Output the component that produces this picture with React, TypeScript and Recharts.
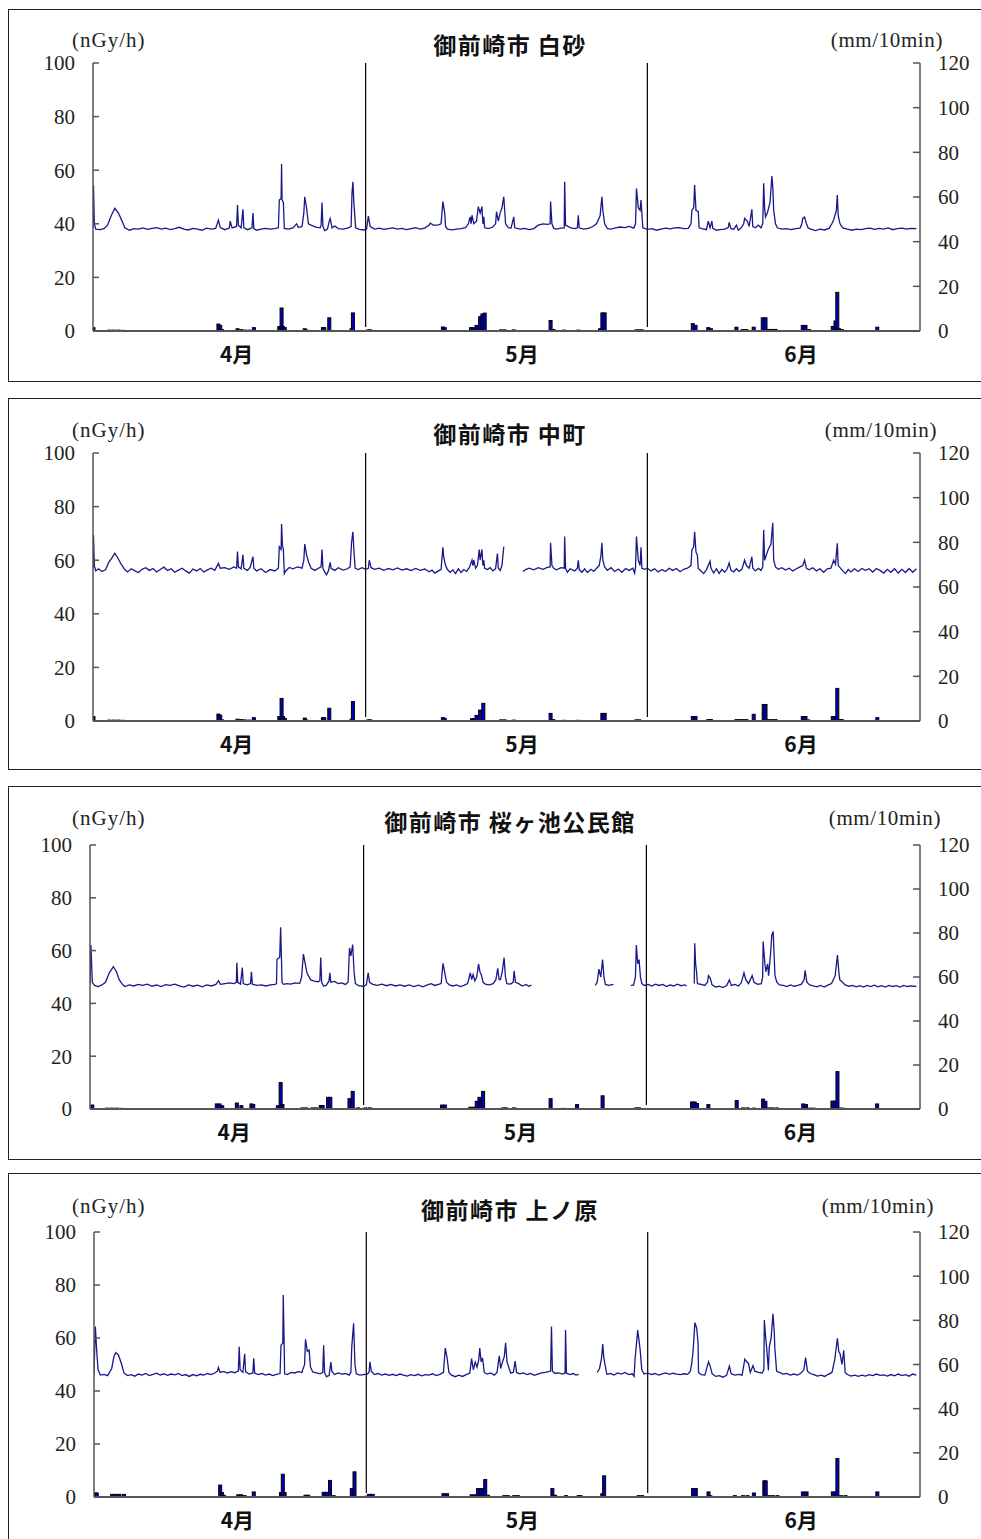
import React from "react";
import { ComposedChart, Line, Bar, XAxis, YAxis, ReferenceLine } from "recharts";

type P = [number, number | null];

// ---------- labels ----------
const titles = ["御前崎市 白砂", "御前崎市 中町", "御前崎市 桜ヶ池公民館", "御前崎市 上ノ原"];
const leftUnit = "(nGy/h)";
const rightUnit = "(mm/10min)";
const months = ["4月", "5月", "6月"];
const monthTicks = [15.8, 47.2, 77.9];
const monthBounds = [30, 61];
const leftTicks = [0, 20, 40, 60, 80, 100];
const rightTicks = [0, 20, 40, 60, 80, 100, 120];

// ---------- panel 1 : 白砂 ----------
const dose1: P[] = [
  [0, 38.5], [0.05, 54.5], [0.15, 40], [0.3, 38], [0.8, 37.8], [1.2, 38.2], [1.6, 39.5], [2.0, 43], [2.4, 45.8], [2.8, 44], [3.2, 41], [3.5, 38.5],
  [4, 37.6], [4.5, 38.2], [5, 38], [5.5, 38.5], [6, 37.9], [6.5, 38.3], [7, 38.6], [7.5, 38], [8, 38.4], [8.5, 37.8], [9, 38.2], [9.5, 38.7],
  [10, 38], [10.5, 37.7], [11, 38.3], [11.5, 38], [12, 37.6], [12.5, 38.4], [13, 38], [13.5, 38.3], [13.8, 41.4], [14, 38.6], [14.5, 37.8],
  [15, 38.4], [15.1, 41], [15.3, 38.5], [15.8, 39], [15.9, 47], [16, 39.5], [16.3, 38.5], [16.5, 45.4], [16.6, 38.5], [17, 37.8], [17.5, 38.5],
  [17.6, 44], [17.7, 38.2], [18, 37.6], [18.5, 38], [19, 38.3], [19.5, 38], [20, 38.2], [20.4, 38.5], [20.5, 48.9], [20.7, 49.5], [20.75, 62.3],
  [20.8, 49], [20.95, 48], [21.05, 38.3], [21.5, 38], [22, 38.5], [22.4, 40], [22.6, 38.6], [23, 39], [23.2, 44], [23.3, 50.1], [23.5, 46],
  [23.7, 40], [24, 39.5], [24.5, 38.8], [25, 38.5], [25.1, 39.5], [25.2, 47.9], [25.3, 39], [25.5, 37.5], [25.8, 38], [26, 41], [26.1, 42],
  [26.3, 38.5], [26.6, 39.2], [27, 38.2], [27.5, 38], [28, 38.4], [28.4, 39], [28.5, 51.4], [28.6, 55.7], [28.7, 48], [28.9, 38.5], [29.3, 37.9],
  [29.8, 37.7], [30.1, 38], [30.3, 42.9], [30.5, 39], [31, 38], [31.5, 38.4], [32, 37.9], [32.5, 38.2], [33, 38.5], [33.5, 38], [34, 38.3],
  [34.5, 37.8], [35, 38.2], [35.5, 38.6], [36, 38], [36.5, 38.4], [37, 39.5], [37.1, 40.2], [37.5, 39.4], [38, 39.6], [38.3, 40], [38.5, 48.3],
  [38.7, 44], [38.8, 39], [39, 38], [39.5, 37.7], [40, 38], [40.5, 38.2], [41, 38.6], [41.3, 40], [41.5, 42.6], [41.6, 40], [41.7, 43.2],
  [41.9, 40], [42.2, 41], [42.4, 46.4], [42.6, 44], [42.8, 46.4], [42.9, 40], [43.0, 42.6], [43.1, 38.5], [43.5, 38.2], [44, 38.8], [44.3, 40],
  [44.4, 44.5], [44.6, 41], [44.8, 44], [45.0, 46], [45.2, 50.1], [45.4, 40], [45.7, 38.6], [46, 38.4], [46.3, 42.6], [46.4, 38.5], [47, 38],
  [47.5, 38.3], [48, 37.8], [48.5, 38.2], [49, 39.5], [49.5, 40], [50, 39.8], [50.3, 40], [50.35, 48.3], [50.5, 40], [50.7, 38.3], [51, 38],
  [51.5, 38.4], [51.85, 38.5], [51.9, 55.7], [52, 39.5], [52.5, 38.6], [53, 38.2], [53.3, 38.5], [53.4, 43.2], [53.5, 38.5], [54, 38], [54.5, 38.3],
  [55, 39], [55.4, 40], [55.8, 43], [56.0, 50.1], [56.1, 45], [56.3, 40], [56.6, 38.2], [57, 38], [57.5, 38.5], [58, 38.8], [58.5, 38.6],
  [59, 39], [59.5, 38.4], [59.7, 40], [59.8, 53.2], [60.0, 46], [60.2, 45], [60.3, 48.9], [60.5, 38.5], [61, 37.9], [61.5, 38.2], [62, 37.6],
  [62.5, 38], [63, 38.4], [63.5, 38.1], [64, 38.5], [64.5, 38.6], [65, 38.2], [65.5, 38.3], [65.8, 40], [65.9, 45.1], [66.1, 46], [66.2, 54.5],
  [66.35, 45], [66.6, 44.5], [66.7, 38.5], [67, 38.2], [67.5, 37.8], [67.7, 41], [67.9, 38.5], [68.1, 41], [68.2, 38.3], [68.6, 37.6], [69, 37.8],
  [69.5, 38], [69.9, 38.6], [70, 40.5], [70.2, 38.2], [70.5, 38], [70.8, 39.5], [71, 37.6], [71.3, 38.4], [71.6, 40], [71.7, 42], [72, 41],
  [72.2, 39], [72.5, 45.4], [72.6, 39], [72.9, 38.5], [73.2, 39.5], [73.5, 38.5], [73.7, 40], [73.8, 55.1], [73.9, 46], [74.0, 42.5], [74.2, 44],
  [74.5, 48], [74.7, 57.8], [74.8, 53.8], [74.9, 45], [75.1, 40], [75.3, 38.5], [75.8, 38], [76.3, 38.2], [76.8, 37.8], [77.3, 38.2], [77.8, 38.4],
  [78.0, 40], [78.1, 42], [78.3, 42.5], [78.5, 40], [78.7, 38.4], [79, 38], [79.5, 37.5], [80, 38], [80.5, 37.7], [81, 38.3], [81.3, 40],
  [81.5, 41.5], [81.8, 45], [81.9, 50.7], [82.0, 43], [82.2, 40], [82.5, 38.5], [83, 38], [83.5, 37.6], [84, 38], [84.5, 37.8], [85, 38.2],
  [85.5, 38.4], [86, 37.9], [86.5, 38.3], [87, 38], [87.5, 38.5], [88, 37.8], [88.5, 38.2], [89, 38.4], [89.5, 38], [90, 38.3], [90.6, 38.2],
];
const rain1: P[] = [
  [0.05, 1.5], [1.8, 0.4], [2.3, 0.4], [2.8, 0.4], [3.3, 0.3], [13.8, 3.1], [14.0, 2.5], [14.2, 0.6], [15.9, 1], [16.3, 0.6], [16.7, 0.4],
  [17.2, 0.4], [17.7, 1.5], [20.5, 2], [20.65, 2], [20.75, 10.3], [20.9, 2], [21.1, 1.5], [23.3, 1], [23.5, 0.4], [25.3, 1.5], [25.45, 1.5],
  [26.0, 5.9], [28.45, 1], [28.6, 8.1], [30.3, 0.5], [30.5, 0.5], [38.5, 1.8], [38.7, 1.5], [41.6, 1.5], [41.85, 1.5], [42.2, 2.5], [42.6, 6.4],
  [42.85, 7.6], [43.1, 8], [44.9, 0.5], [45.3, 0.5], [46.3, 0.5], [50.35, 4.7], [50.65, 0.7], [51.8, 0.4], [53.4, 0.4], [55.8, 1], [56.05, 8.1],
  [56.3, 8.1], [59.8, 0.5], [60.1, 0.5], [60.4, 0.5], [66.0, 3.3], [66.3, 2.5], [67.7, 1.5], [68.0, 1], [70.8, 1.7], [71.5, 0.6], [71.9, 0.6],
  [72.7, 1.7], [73.7, 5.9], [74.0, 5.9], [74.3, 0.7], [74.7, 0.7], [75.1, 0.7], [78.1, 2.5], [78.4, 2.5], [78.8, 0.6], [81.4, 2], [81.7, 4.5],
  [81.9, 17.3], [82.1, 1], [82.4, 0.6], [86.3, 1.7],
];

// ---------- panel 2 : 中町 ----------
const dose2: P[] = [
  [0, 57], [0.05, 69.4], [0.15, 58], [0.3, 56], [0.6, 56.8], [1, 55.8], [1.4, 56.5], [1.7, 59], [2.1, 61], [2.4, 62.6], [2.7, 61], [3.1, 58.5],
  [3.5, 56.5], [3.8, 55.6], [4.2, 56.8], [4.6, 56], [5, 55.4], [5.4, 56.6], [5.8, 57.2], [6.2, 56.2], [6.6, 56.9], [7, 55.6], [7.4, 56.5],
  [7.8, 57.4], [8.2, 56.2], [8.6, 56.8], [9, 55.5], [9.4, 56.3], [9.8, 57], [10.2, 56], [10.6, 55.2], [11, 56.7], [11.4, 56], [11.8, 56.9],
  [12.2, 55.6], [12.6, 56.4], [13, 57], [13.4, 56.2], [13.8, 58.8], [14, 57], [14.5, 57.2], [15, 56.6], [15.5, 57.5], [15.8, 57], [15.9, 63.2],
  [16.0, 57.5], [16.3, 56.8], [16.5, 62], [16.6, 57], [17, 56.2], [17.3, 57.4], [17.6, 61.3], [17.7, 57], [18, 56], [18.5, 56.8], [19, 55.4],
  [19.5, 56.5], [20, 56], [20.4, 57], [20.5, 65], [20.7, 64], [20.75, 73.5], [20.85, 65.5], [20.95, 64], [21.05, 55], [21.2, 56], [21.6, 57.3],
  [22, 56.8], [22.5, 57.5], [23, 57], [23.2, 60], [23.3, 66], [23.5, 62], [23.7, 59.5], [24, 57], [24.4, 56.2], [24.8, 57], [25.1, 57.5],
  [25.2, 64], [25.3, 57], [25.5, 55.5], [25.7, 54.6], [25.9, 56], [26.1, 59.2], [26.2, 57], [26.6, 56.2], [27, 57.2], [27.5, 56.3], [28, 56.8],
  [28.3, 57.5], [28.45, 66.6], [28.6, 70.6], [28.7, 64], [28.85, 57], [29.2, 56.5], [29.6, 57.2], [30, 56.6], [30.3, 57], [30.4, 60], [30.6, 57.2],
  [31, 56.6], [31.5, 57], [32, 56.2], [32.5, 56.9], [33, 56.4], [33.5, 57.1], [34, 56.3], [34.5, 56.8], [35, 56.1], [35.5, 56.9], [36, 56.2],
  [36.5, 56.7], [37, 55.7], [37.3, 56.3], [37.6, 55.2], [38, 56], [38.3, 56.5], [38.5, 64.8], [38.6, 61], [38.8, 58], [39, 56.5], [39.3, 55.5],
  [39.6, 56.4], [39.9, 55], [40.2, 56.8], [40.5, 55.4], [40.8, 56.5], [41.1, 55.8], [41.4, 57.2], [41.7, 60], [41.8, 58], [41.9, 60], [42.1, 57],
  [42.3, 58], [42.5, 64], [42.6, 60], [42.8, 64], [42.9, 58], [43, 60], [43.1, 57], [43.4, 56.5], [43.7, 57.2], [44, 56], [44.3, 56.8],
  [44.5, 62.5], [44.6, 57], [44.8, 56.2], [45.0, 58], [45.2, 65], [45.3, null], [47.3, 55.8], [47.6, 56.5], [48, 57], [48.5, 56.4], [49, 57.2],
  [49.5, 56.6], [50, 57.3], [50.3, 57.5], [50.35, 66.5], [50.5, 58], [50.7, 57], [51, 56.4], [51.5, 57.2], [51.85, 57], [51.9, 68.8], [52, 57],
  [52.2, 55.5], [52.5, 56.8], [53, 56], [53.3, 57], [53.4, 60], [53.5, 56.5], [53.8, 55.5], [54.1, 56.8], [54.4, 55.4], [54.8, 56.6], [55.1, 55.8],
  [55.4, 57], [55.7, 58], [55.9, 62], [56.0, 66.5], [56.1, 60], [56.3, 57.5], [56.6, 56.2], [57, 57.2], [57.4, 55.8], [57.8, 56.7], [58.2, 55.5],
  [58.6, 56.9], [59, 56.2], [59.4, 57], [59.6, 55.2], [59.7, 57.5], [59.8, 68.8], [60, 60], [60.2, 58], [60.3, 64.8], [60.4, 57], [60.7, 56.6],
  [61, 57], [61.4, 56], [61.8, 56.8], [62.2, 55.6], [62.6, 56.5], [63, 55.8], [63.4, 57], [63.8, 56.2], [64.2, 56.9], [64.6, 55.7], [65, 56.6],
  [65.4, 57], [65.8, 58], [65.9, 63.8], [66.1, 65], [66.2, 70.6], [66.35, 63], [66.5, 62], [66.6, 57], [66.9, 56], [67.2, 55], [67.5, 56.5],
  [67.9, 59.6], [68, 57], [68.3, 55.2], [68.6, 56.8], [68.9, 55], [69.2, 56.6], [69.5, 55.5], [69.8, 56.9], [70, 59], [70.2, 56.2], [70.5, 55.6],
  [70.8, 56.8], [71.1, 55.8], [71.4, 56.6], [71.7, 60], [71.9, 58], [72.2, 57], [72.5, 61.3], [72.6, 57], [72.9, 56], [73.2, 57], [73.5, 56.2],
  [73.7, 57.5], [73.8, 71.3], [73.9, 60], [74.1, 62], [74.3, 64], [74.6, 66], [74.8, 74], [74.9, 60], [75.1, 57.5], [75.4, 56.6], [75.8, 57.2],
  [76.2, 56.3], [76.6, 57], [77, 56], [77.4, 56.8], [77.8, 57.5], [78.1, 58], [78.3, 60], [78.5, 57], [78.8, 56.4], [79.2, 57.2], [79.6, 56],
  [80, 56.8], [80.4, 55.5], [80.8, 56.8], [81.2, 57], [81.5, 60], [81.7, 58.5], [81.9, 66.3], [82, 58], [82.2, 57.2], [82.5, 56], [82.8, 55],
  [83.1, 56.5], [83.4, 55.6], [83.8, 56.8], [84.2, 55.8], [84.6, 56.9], [85, 56.2], [85.4, 56.8], [85.8, 55.6], [86.2, 56.9], [86.6, 56.2],
  [87, 55.2], [87.4, 56.6], [87.8, 55.5], [88.2, 56.8], [88.6, 55.2], [89, 56.6], [89.4, 55.4], [89.8, 56.9], [90.2, 55.5], [90.6, 56.8],
];
const rain2: P[] = [
  [0.05, 2], [1.8, 0.4], [2.3, 0.4], [2.8, 0.4], [3.3, 0.3], [13.8, 3.1], [14.0, 2.6], [14.2, 0.5], [15.9, 0.8], [16.3, 0.6], [16.7, 0.5],
  [17.2, 0.4], [17.7, 1.5], [20.5, 2], [20.65, 2], [20.75, 10.1], [20.9, 2], [21.1, 1.2], [23.3, 1.3], [23.5, 0.4], [25.3, 1.5], [25.45, 1.5],
  [26.0, 5.7], [28.45, 0.8], [28.6, 8.7], [30.3, 0.5], [30.5, 0.5], [38.5, 1.5], [38.7, 1.2], [41.7, 1], [41.9, 1], [42.2, 2.5], [42.6, 4.9],
  [42.95, 7.9], [44.9, 0.5], [45.3, 0.5], [46.3, 0.4], [50.35, 3.4], [50.65, 0.6], [51.8, 0.3], [53.4, 0.3], [56.05, 3.4], [56.3, 3.4],
  [59.8, 0.5], [60.1, 0.5], [66.0, 2], [66.3, 2], [67.7, 0.6], [68.0, 0.6], [70.8, 0.6], [71.1, 0.6], [71.5, 0.6], [71.9, 0.6], [72.7, 3],
  [73.8, 7.4], [74.0, 7.4], [74.3, 0.6], [74.7, 0.6], [75.1, 0.6], [78.1, 2], [78.4, 2], [78.7, 0.5], [81.4, 2], [81.7, 2], [81.9, 14.6],
  [82.1, 0.6], [82.4, 0.6], [86.3, 1.5],
];

// ---------- panel 3 : 桜ヶ池公民館 ----------
const dose3: P[] = [
  [0, 47], [0.1, 62.1], [0.25, 48], [0.5, 46.8], [0.9, 46.4], [1.3, 47], [1.7, 48], [2.1, 51.5], [2.56, 53.9], [2.9, 52], [3.2, 49], [3.5, 47.5],
  [3.8, 46.4], [4.3, 47], [4.8, 46.6], [5.3, 47.2], [5.8, 46.8], [6.3, 47.3], [6.8, 46.5], [7.3, 47], [7.8, 46.4], [8.3, 47.1], [8.8, 46.8],
  [9.3, 47.3], [9.8, 46.6], [10.3, 46.2], [10.8, 47], [11.3, 46.5], [11.8, 46.9], [12.3, 46.3], [12.8, 47], [13.3, 46.6], [13.8, 47.2],
  [14.1, 48.6], [14.3, 47.2], [14.8, 47.5], [15.3, 47.8], [15.8, 47.5], [16.05, 48], [16.1, 55.4], [16.2, 48], [16.5, 47.3], [16.7, 53.6],
  [16.8, 47.5], [17.2, 47], [17.6, 47.5], [17.7, 52], [17.8, 47.3], [18.3, 46.8], [18.8, 47], [19.3, 46.6], [19.8, 47], [20.3, 47.2], [20.45, 47.5],
  [20.5, 56.6], [20.8, 57.5], [20.9, 68.8], [21.0, 56], [21.05, 48], [21.2, 47.2], [21.6, 47.5], [22, 47.3], [22.5, 47.8], [23, 47.6], [23.2, 50],
  [23.4, 58.7], [23.6, 55], [23.8, 51.4], [24.2, 48.9], [24.6, 48.4], [25, 48.2], [25.2, 48.6], [25.3, 57.4], [25.4, 48], [25.6, 46.6],
  [25.9, 46.8], [26.2, 48.5], [26.3, 51.6], [26.4, 48], [26.8, 48.3], [27.2, 47.5], [27.6, 47.8], [28, 47.2], [28.3, 48], [28.45, 61], [28.6, 58],
  [28.8, 62.3], [28.95, 52], [29.1, 47.5], [29.5, 46.6], [30, 46.5], [30.3, 47], [30.5, 51.6], [30.65, 48], [31, 47.2], [31.5, 46.8], [32, 47.3],
  [32.5, 46.7], [33, 47.2], [33.5, 46.6], [34, 47], [34.5, 46.5], [35, 47], [35.5, 46.4], [36, 46.9], [36.5, 46.3], [37, 47], [37.4, 47.5],
  [37.8, 46.8], [38.2, 47.2], [38.5, 47.5], [38.7, 55.2], [38.9, 51.6], [39.1, 48], [39.4, 47], [39.8, 46.6], [40.2, 47], [40.6, 46.4], [41, 46.8],
  [41.4, 47.5], [41.7, 51.6], [41.85, 49], [42.0, 50.9], [42.2, 48.5], [42.4, 50], [42.6, 55], [42.75, 52], [42.9, 50.9], [43.1, 48], [43.4, 47.2],
  [43.8, 47], [44.2, 47.5], [44.5, 49], [44.7, 53.3], [44.85, 49], [45.0, 49], [45.2, 52], [45.4, 57.4], [45.55, 50], [45.7, 47.5], [46.1, 47.3],
  [46.4, 48], [46.5, 52.3], [46.65, 48], [47, 47.5], [47.4, 46.6], [47.8, 47.2], [48.1, 46.5], [48.4, 46.9], [48.5, null], [55.4, 46.8],
  [55.6, 48], [55.8, 53], [56.0, 50], [56.2, 56.6], [56.35, 50], [56.5, 47.2], [56.9, 46.8], [57.4, 47.2], [57.5, null], [59.3, 46.7], [59.6, 47],
  [59.8, 50], [59.9, 62.1], [60.05, 55], [60.2, 56.6], [60.35, 50], [60.5, 47.5], [60.8, 46.8], [61.2, 47.2], [61.6, 46.6], [62, 47.3],
  [62.4, 46.8], [62.8, 47.2], [63.2, 46.4], [63.6, 47], [64, 46.6], [64.4, 47.3], [64.8, 46.7], [65.2, 47], [65.4, 46.6], [65.5, null],
  [66.25, 47.5], [66.3, 62.8], [66.4, 55], [66.5, 52], [66.6, 47.5], [67, 47.2], [67.4, 46.8], [67.7, 48], [67.8, 50.5], [68, 49.6], [68.2, 47],
  [68.6, 46.2], [69, 46.5], [69.4, 46], [69.8, 46.8], [70.1, 48.9], [70.3, 46.8], [70.7, 47.2], [71.1, 46.6], [71.4, 47.8], [71.7, 51.6],
  [71.9, 49], [72.2, 47.5], [72.6, 50.5], [72.8, 48], [73.2, 47.2], [73.6, 47.5], [73.75, 50], [73.8, 63.4], [74.0, 55], [74.1, 52], [74.3, 55],
  [74.4, 50.5], [74.6, 58], [74.75, 65.9], [74.9, 67.2], [75.1, 50.5], [75.3, 48], [75.6, 47], [76, 46.8], [76.4, 46.4], [76.8, 47], [77.2, 46.5],
  [77.6, 46.8], [78, 47.3], [78.3, 49], [78.4, 52.5], [78.6, 48], [78.9, 47], [79.3, 46.6], [79.7, 46.3], [80.1, 46.8], [80.5, 46.2], [80.9, 46.9],
  [81.3, 47.5], [81.7, 50.5], [81.95, 58.3], [82.1, 52], [82.2, 49], [82.5, 48], [82.8, 47], [83.2, 46.5], [83.6, 46.8], [84, 46.3], [84.4, 46.7],
  [84.8, 46.2], [85.2, 46.8], [85.6, 46.4], [86, 46.9], [86.4, 46.3], [86.8, 46.7], [87.2, 46.2], [87.6, 46.8], [88, 46.4], [88.4, 46.7],
  [88.8, 46.2], [89.2, 46.8], [89.6, 46.4], [90, 46.6], [90.6, 46.4],
];
const rain3: P[] = [
  [0.25, 1.8], [1.9, 0.4], [2.4, 0.4], [2.9, 0.4], [3.4, 0.3], [13.9, 2.3], [14.2, 2.3], [14.5, 1.5], [16.1, 2.7], [16.6, 1.5], [17.7, 2.3],
  [17.9, 2], [20.6, 1.5], [20.9, 12], [21.1, 2], [23.3, 0.5], [23.7, 0.5], [24.4, 0.5], [24.8, 0.5], [25.3, 1.6], [25.5, 1.6], [26.1, 5.3],
  [26.35, 5.3], [28.45, 4.7], [28.8, 8], [29.4, 0.5], [30.2, 0.5], [30.7, 0.5], [38.6, 1.8], [38.9, 1.8], [41.7, 0.8], [42.1, 0.8], [42.4, 3.5],
  [42.7, 5.3], [42.9, 4], [43.1, 8], [45.3, 0.5], [45.6, 0.5], [46.5, 0.5], [50.5, 4.7], [51.9, 0.3], [53.4, 2], [56.2, 6], [59.9, 0.5],
  [60.2, 0.5], [66.0, 3.2], [66.3, 3.2], [66.55, 2.5], [67.8, 2], [70.9, 3.8], [71.6, 0.5], [72.1, 0.5], [72.8, 0.4], [73.8, 4.5], [74.05, 3.5],
  [74.4, 0.5], [74.8, 0.5], [75.3, 0.5], [78.2, 2.3], [78.5, 2], [78.9, 0.4], [79.3, 0.4], [81.4, 3.6], [81.7, 3.6], [81.95, 17], [82.2, 0.4],
  [82.5, 0.4], [86.3, 2.3],
];

// ---------- panel 4 : 上ノ原 ----------
const dose4: P[] = [
  [0, 46.5], [0.15, 64.3], [0.3, 55], [0.45, 48], [0.7, 46], [1.1, 46.3], [1.5, 45.8], [1.95, 48.5], [2.2, 53], [2.4, 54.5], [2.7, 53.5],
  [3.05, 50], [3.3, 46.8], [3.7, 45.8], [4.1, 46.2], [4.5, 45.6], [4.9, 46.4], [5.3, 46], [5.7, 46.6], [6.1, 45.8], [6.5, 46.3], [6.9, 46.7],
  [7.3, 46], [7.7, 46.5], [8.1, 45.9], [8.5, 46.4], [8.9, 46.1], [9.3, 46.6], [9.7, 45.8], [10.1, 46.2], [10.5, 45.5], [10.9, 46.2], [11.3, 45.7],
  [11.7, 46.3], [12.1, 46], [12.5, 46.6], [12.9, 46.2], [13.3, 46.8], [13.6, 47.5], [13.7, 48.9], [13.9, 47], [14.3, 47.4], [14.7, 46.8],
  [15.1, 47.3], [15.5, 46.9], [15.9, 47.5], [16.0, 56.7], [16.1, 48], [16.4, 47], [16.6, 54], [16.7, 47.2], [17.1, 46.4], [17.5, 46.8],
  [17.6, 52.3], [17.7, 46.8], [18.1, 46.2], [18.5, 46.6], [18.9, 46], [19.3, 46.4], [19.7, 45.8], [20.1, 46.3], [20.5, 46.6], [20.6, 57.3],
  [20.8, 58], [20.85, 76.2], [20.95, 57], [21.0, 46.5], [21.3, 46.2], [21.7, 47], [22.1, 46.8], [22.5, 47.3], [22.9, 47], [23.2, 50], [23.3, 59.5],
  [23.5, 55], [23.7, 55.5], [23.85, 49], [24.1, 47.2], [24.5, 46.8], [24.9, 46.5], [25.2, 47], [25.3, 57.3], [25.4, 47], [25.6, 45.4], [25.9, 45.8],
  [26.1, 50.9], [26.2, 47.5], [26.5, 46.2], [26.9, 46.8], [27.3, 46.4], [27.7, 46.6], [28.1, 46], [28.3, 47], [28.4, 56.7], [28.6, 65.5],
  [28.75, 50], [28.9, 46.5], [29.3, 46], [29.7, 46.2], [30.1, 46.4], [30.3, 47], [30.4, 51], [30.55, 47.5], [30.9, 46.2], [31.3, 46.6], [31.7, 46],
  [32.1, 46.4], [32.5, 45.9], [32.9, 46.3], [33.3, 45.8], [33.7, 46.4], [34.1, 46], [34.5, 45.6], [34.9, 46.2], [35.3, 45.8], [35.7, 46.3],
  [36.1, 45.7], [36.5, 46.2], [36.9, 46], [37.3, 46.5], [37.7, 45.8], [38.1, 46.3], [38.5, 47], [38.7, 56.2], [38.9, 52.5], [39.1, 47], [39.4, 46],
  [39.8, 45.4], [40.2, 46], [40.6, 45.5], [41, 46.2], [41.4, 46.8], [41.6, 52.2], [41.8, 48], [42.0, 50.9], [42.2, 49], [42.4, 52], [42.5, 56.2],
  [42.65, 51], [42.8, 52.5], [43.0, 47], [43.3, 46.4], [43.7, 46.8], [44.1, 46], [44.4, 47], [44.65, 53.3], [44.8, 48.5], [45.0, 50.9], [45.2, 53],
  [45.35, 58.2], [45.5, 51], [45.65, 49.4], [45.9, 46.8], [46.2, 47], [46.4, 51.3], [46.55, 47], [46.9, 46.5], [47.3, 46.8], [47.7, 46.2],
  [48.1, 46.6], [48.5, 45.9], [48.9, 46.4], [49.3, 46.8], [49.7, 47], [50.1, 47.3], [50.3, 47.5], [50.4, 64.3], [50.5, 47.5], [50.8, 46.6],
  [51.2, 46.8], [51.6, 46.4], [51.9, 46.8], [51.95, 63], [52.05, 46.8], [52.4, 46.2], [52.8, 46.6], [53.1, 46], [53.4, 46.3], [53.5, null],
  [55.45, 47], [55.7, 48.6], [55.9, 52], [56.05, 57.7], [56.15, 53], [56.3, 50], [56.5, 46.3], [56.9, 46.6], [57.3, 46], [57.7, 46.8],
  [58.1, 46.4], [58.5, 47], [58.9, 46.2], [59.3, 46.5], [59.5, 45.5], [59.6, 51.6], [59.9, 63], [60.15, 56.2], [60.35, 48], [60.6, 46.4],
  [61, 46.8], [61.4, 46.2], [61.8, 46.6], [62.2, 46], [62.6, 46.5], [63, 46.8], [63.4, 46.3], [63.8, 46.7], [64.2, 46.4], [64.6, 46.2], [65, 46.5],
  [65.4, 46.3], [65.7, 47.5], [65.85, 50.3], [66.0, 55], [66.2, 65.8], [66.4, 63.7], [66.55, 58], [66.6, 47], [66.9, 46.2], [67.3, 46], [67.7, 51],
  [67.9, 49.2], [68.1, 46.5], [68.5, 45.5], [68.9, 45.8], [69.3, 45.2], [69.7, 46], [70.0, 49.4], [70.2, 46.5], [70.6, 46], [71, 46.3], [71.4, 46],
  [71.7, 52], [71.9, 51], [72.1, 50.4], [72.3, 47], [72.6, 49.6], [72.8, 47.5], [73.2, 47], [73.6, 46.8], [73.8, 48], [73.85, 66.8], [74.0, 60],
  [74.1, 56.7], [74.3, 47.8], [74.4, 56.7], [74.6, 60], [74.8, 69.1], [74.95, 62], [75.0, 56.7], [75.2, 47.5], [75.5, 47], [75.9, 46.4],
  [76.3, 46.6], [76.7, 46], [77.1, 46.4], [77.5, 46], [77.9, 46.8], [78.2, 48], [78.4, 52.6], [78.6, 47.5], [78.9, 46.6], [79.3, 46.2],
  [79.7, 45.6], [80.1, 46], [80.5, 45.5], [80.9, 46.3], [81.3, 47], [81.6, 51.6], [81.9, 59.9], [82.05, 55], [82.2, 54], [82.4, 50], [82.6, 55.3],
  [82.75, 47], [83, 46.2], [83.4, 45.6], [83.8, 46], [84.2, 45.5], [84.6, 46], [85, 45.6], [85.4, 46.2], [85.8, 45.8], [86.2, 46.4], [86.6, 45.9],
  [87, 46.1], [87.4, 45.6], [87.8, 46.2], [88.2, 45.7], [88.6, 46.4], [89, 45.8], [89.4, 46.2], [89.8, 45.6], [90.2, 46.4], [90.6, 46],
];
const rain4: P[] = [
  [0.15, 1.8], [0.3, 1.8], [2.0, 1.2], [2.4, 1.2], [2.8, 1.2], [3.3, 1.2], [13.9, 5.4], [14.1, 2], [14.3, 0.8], [15.9, 1], [16.2, 1], [16.6, 0.6],
  [17.6, 2.3], [20.6, 2], [20.8, 10.3], [21.0, 2], [23.3, 0.8], [23.6, 0.8], [25.3, 2.1], [25.6, 2.1], [26.0, 7.5], [26.4, 0.6], [28.4, 3.8],
  [28.7, 11.4], [30.1, 0.4], [30.3, 1.2], [30.7, 1.2], [38.5, 1.5], [38.9, 1.5], [41.6, 1], [42.0, 1], [42.3, 3.8], [42.6, 3.8], [42.9, 3.8],
  [43.1, 7.9], [43.4, 0.8], [45.2, 0.6], [45.6, 0.6], [46.3, 0.6], [46.7, 0.6], [50.5, 3.8], [50.8, 0.8], [52.0, 0.6], [53.4, 0.6], [53.6, 0.6],
  [56.0, 1.5], [56.2, 9.6], [60.0, 0.6], [60.4, 0.6], [66.0, 3.8], [66.3, 3.8], [67.7, 2.3], [67.9, 0.6], [70.6, 0.6], [71.5, 0.6], [72.0, 0.6],
  [72.7, 1.8], [73.85, 7.3], [74.0, 7.3], [74.4, 0.6], [74.8, 0.6], [75.3, 0.6], [78.1, 2.3], [78.5, 2.3], [81.4, 2.3], [81.7, 2.3], [81.9, 17.4],
  [82.3, 0.6], [82.8, 0.6], [86.3, 2.3],
];

// ---------- layout ----------
const doses = [dose1, dose2, dose3, dose4];
const rains = [rain1, rain2, rain3, rain4];
const layout = [
  { top: 9, h: 373, plotL: 93, plotT: 63, plotB: 331, titleY: 44, unitY: 40, unitR: 943 },
  { top: 398, h: 372, plotL: 93, plotT: 453, plotB: 721, titleY: 433, unitY: 430, unitR: 937 },
  { top: 786, h: 374, plotL: 90, plotT: 845, plotB: 1109, titleY: 821, unitY: 818, unitR: 941 },
  { top: 1173, h: 420, plotL: 94, plotT: 1232, plotB: 1497, titleY: 1209, unitY: 1206, unitR: 934 },
];
const PLOT_R = 920;
const PAGE_W = 981;
const AXIS_W = 60;
const XAXIS_H = 30;
const BAR_W = 3;

const SERIF = "'Liberation Serif', 'DejaVu Serif', serif";
const GOTHIC = "'Noto Sans CJK JP', 'Noto Sans', sans-serif";
const AXIS_COLOR = "#555";

const toRows = (a: P[]) => a.map(([d, v]) => ({ d, v }));

const LeftTick = (props: any) => {
  const { x, y, payload } = props;
  return (
    <g>
      <line x1={x + 18} x2={x + 24} y1={y} y2={y} stroke={AXIS_COLOR} strokeWidth={1.5} />
      <text x={x} y={y} dy="0.35em" textAnchor="end" fontFamily={SERIF} fontSize={21} fill="#222">
        {payload.value}
      </text>
    </g>
  );
};

const RightTick = (props: any) => {
  const { x, y, payload } = props;
  return (
    <g>
      <line x1={x - 18} x2={x - 25} y1={y} y2={y} stroke={AXIS_COLOR} strokeWidth={1.5} />
      <text x={x} y={y} dy="0.35em" textAnchor="start" fontFamily={SERIF} fontSize={21} fill="#222">
        {payload.value}
      </text>
    </g>
  );
};

const MonthTick = (props: any) => {
  const { x, y, payload } = props;
  const i = monthTicks.indexOf(payload.value);
  return (
    <text x={x} y={y} dy="0.8em" textAnchor="middle" fontFamily={GOTHIC} fontWeight={700} fontSize={21} fill="#111">
      {months[i]}
    </text>
  );
};

// bar drawn at the scale position given by recharts, with a fixed visible width
const RainBar = (props: any) => {
  const { x, y, width, height } = props;
  if (!height || height <= 0) return null;
  const cx = x + width / 2;
  return (
    <rect x={cx - BAR_W / 2} y={y} width={BAR_W} height={height} fill="#0000c0" stroke="#000" strokeWidth={1} />
  );
};

function Panel({ idx }: { idx: number }) {
  const L = layout[idx];
  const chartTop = L.top + 1;
  const chartH = L.plotB + 45 - chartTop;
  const rainRows = toRows(rains[idx]);
  const doseRows = toRows(doses[idx]);
  return (
    <>
      <div
        style={{
          position: "absolute",
          left: 8,
          top: L.top,
          width: 1000,
          height: L.h,
          border: "1px solid #222",
          boxSizing: "border-box",
        }}
      />
      <div
        style={{
          position: "absolute",
          left: 510,
          top: L.titleY - 16,
          height: 32,
          lineHeight: "32px",
          transform: "translateX(-50%)",
          whiteSpace: "nowrap",
          fontFamily: GOTHIC,
          fontWeight: 700,
          fontSize: 23,
          letterSpacing: 1.5,
          color: "#111",
        }}
      >
        {titles[idx]}
      </div>
      <div
        style={{
          position: "absolute",
          left: 72,
          top: L.unitY - 13,
          height: 26,
          lineHeight: "26px",
          whiteSpace: "nowrap",
          fontFamily: SERIF,
          fontSize: 21,
          letterSpacing: 1,
          color: "#222",
        }}
      >
        {leftUnit}
      </div>
      <div
        style={{
          position: "absolute",
          right: PAGE_W - L.unitR,
          top: L.unitY - 13,
          height: 26,
          lineHeight: "26px",
          whiteSpace: "nowrap",
          fontFamily: SERIF,
          fontSize: 21,
          letterSpacing: 0.6,
          color: "#222",
        }}
      >
        {rightUnit}
      </div>
      <div style={{ position: "absolute", left: 0, top: chartTop }}>
        <ComposedChart
          width={PAGE_W}
          height={chartH}
          data={rainRows}
          margin={{
            top: L.plotT - chartTop,
            bottom: 45 - XAXIS_H,
            left: L.plotL - AXIS_W,
            right: PAGE_W - PLOT_R - AXIS_W,
          }}
        >
          <XAxis
            dataKey="d"
            type="number"
            domain={[0, 91]}
            allowDataOverflow
            ticks={monthTicks}
            interval={0}
            tick={<MonthTick />}
            tickLine={false}
            tickSize={0}
            tickMargin={14}
            height={XAXIS_H}
            axisLine={{ stroke: AXIS_COLOR, strokeWidth: 2 }}
          />
          <YAxis
            yAxisId="L"
            domain={[0, 100]}
            ticks={leftTicks}
            interval={0}
            width={AXIS_W}
            tick={<LeftTick />}
            tickLine={false}
            tickSize={0}
            tickMargin={18}
            axisLine={{ stroke: AXIS_COLOR, strokeWidth: 1.5 }}
          />
          <YAxis
            yAxisId="R"
            orientation="right"
            domain={[0, 120]}
            ticks={rightTicks}
            interval={0}
            width={AXIS_W}
            tick={<RightTick />}
            tickLine={false}
            tickSize={0}
            tickMargin={18}
            axisLine={{ stroke: AXIS_COLOR, strokeWidth: 1.5 }}
          />
          {monthBounds.map((b) => (
            <ReferenceLine
              key={b}
              yAxisId="L"
              segment={[
                { x: b, y: 1.5 },
                { x: b, y: 100 },
              ]}
              stroke="#000"
              strokeWidth={1.2}
            />
          ))}
          <Bar yAxisId="R" dataKey="v" shape={<RainBar />} isAnimationActive={false} />
          <Line
            yAxisId="L"
            data={doseRows}
            dataKey="v"
            type="linear"
            stroke="#18188a"
            strokeWidth={1.3}
            dot={false}
            activeDot={false}
            isAnimationActive={false}
          />
        </ComposedChart>
      </div>
    </>
  );
}

export default function App() {
  return (
    <div
      style={{
        position: "fixed",
        left: 0,
        top: 0,
        width: PAGE_W,
        height: 1539,
        overflow: "hidden",
        background: "#fff",
      }}
    >
      {[0, 1, 2, 3].map((i) => (
        <Panel key={i} idx={i} />
      ))}
    </div>
  );
}
